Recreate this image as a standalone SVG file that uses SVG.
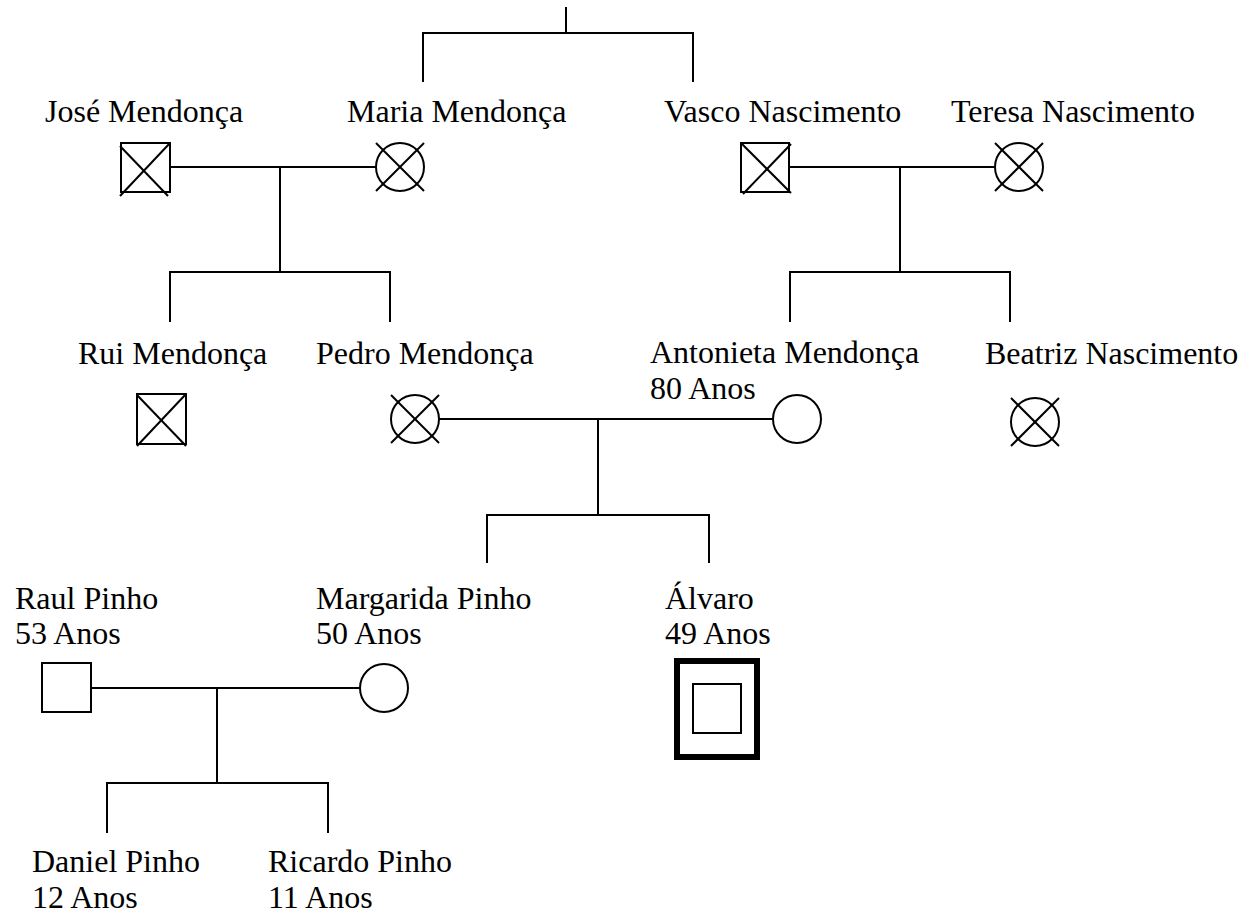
<svg xmlns="http://www.w3.org/2000/svg" width="1254" height="917" viewBox="0 0 1254 917">
  <style>
    .ln { stroke: #000; stroke-width: 2; fill: none; }
    .sym { stroke: #000; stroke-width: 2; fill: #fff; }
    .x { stroke: #000; stroke-width: 2; }
    .lbl { font-family: "Liberation Serif", "Times New Roman", serif; font-size: 32px; fill: #000; }
  </style>
  <rect width="1254" height="917" fill="#fff"/>

  <!-- connectors -->
  <g id="connectors" class="ln">
    <path d="M566,7 V33 M423,82 V33 H693 V82"/>
    <path d="M170,167 H376 M280,167 V272 M170,322 V272 H390 V322"/>
    <path d="M789,167 H995 M900,167 V272 M790,322 V272 H1010 V322"/>
    <path d="M439,419 H773 M598,419 V515 M487,563 V515 H709 V563"/>
    <path d="M91,688 H360 M217,688 V783 M107,833 V783 H328 V833"/>
  </g>

  <!-- deceased male -->
  <g id="jose">
    <text class="lbl" x="45" y="122">José Mendonça</text>
    <rect class="sym" x="121" y="143" width="49" height="49"/>
    <line class="x" x1="120" y1="146" x2="168" y2="196"/>
    <line class="x" x1="120" y1="196" x2="170" y2="143"/>
  </g>
  <g id="maria">
    <text class="lbl" x="347" y="122">Maria Mendonça</text>
    <circle class="sym" cx="400" cy="167" r="24"/>
    <line class="x" x1="376" y1="143" x2="424" y2="191"/>
    <line class="x" x1="376" y1="191" x2="424" y2="143"/>
  </g>
  <g id="vasco">
    <text class="lbl" x="664" y="122">Vasco Nascimento</text>
    <rect class="sym" x="741" y="143" width="48" height="49"/>
    <line class="x" x1="741" y1="143" x2="791" y2="193"/>
    <line class="x" x1="743" y1="194" x2="791" y2="144"/>
  </g>
  <g id="teresa">
    <text class="lbl" x="951" y="122">Teresa Nascimento</text>
    <circle class="sym" cx="1019" cy="167" r="24"/>
    <line class="x" x1="995" y1="143" x2="1043" y2="191"/>
    <line class="x" x1="995" y1="191" x2="1043" y2="143"/>
  </g>

  <g id="rui">
    <text class="lbl" x="78" y="364">Rui Mendonça</text>
    <rect class="sym" x="137" y="394" width="49" height="50"/>
    <line class="x" x1="137" y1="395" x2="186" y2="446"/>
    <line class="x" x1="137" y1="446" x2="186" y2="394"/>
  </g>
  <g id="pedro">
    <text class="lbl" x="316" y="364">Pedro Mendonça</text>
    <circle class="sym" cx="415" cy="419" r="24"/>
    <line class="x" x1="391" y1="395" x2="439" y2="443"/>
    <line class="x" x1="391" y1="443" x2="439" y2="395"/>
  </g>
  <g id="antonieta">
    <text class="lbl" x="650" y="363">Antonieta Mendonça</text>
    <text class="lbl" x="650" y="399">80 Anos</text>
    <circle class="sym" cx="797" cy="419" r="24"/>
  </g>
  <g id="beatriz">
    <text class="lbl" x="985" y="364">Beatriz Nascimento</text>
    <circle class="sym" cx="1035" cy="422" r="24"/>
    <line class="x" x1="1011" y1="398" x2="1059" y2="446"/>
    <line class="x" x1="1011" y1="446" x2="1059" y2="398"/>
  </g>

  <g id="raul">
    <text class="lbl" x="15" y="609">Raul Pinho</text>
    <text class="lbl" x="15" y="644">53 Anos</text>
    <rect class="sym" x="42" y="663" width="49" height="49"/>
  </g>
  <g id="margarida">
    <text class="lbl" x="316" y="609">Margarida Pinho</text>
    <text class="lbl" x="316" y="644">50 Anos</text>
    <circle class="sym" cx="384" cy="688" r="24"/>
  </g>
  <!-- index case -->
  <g id="alvaro">
    <text class="lbl" x="665" y="609">Álvaro</text>
    <text class="lbl" x="665" y="644">49 Anos</text>
    <rect x="677" y="661" width="80" height="96" fill="#fff" stroke="#000" stroke-width="6"/>
    <rect class="sym" x="693" y="684" width="48" height="49"/>
  </g>

  <g id="daniel">
    <text class="lbl" x="32" y="872">Daniel Pinho</text>
    <text class="lbl" x="32" y="908">12 Anos</text>
  </g>
  <g id="ricardo">
    <text class="lbl" x="268" y="872">Ricardo Pinho</text>
    <text class="lbl" x="268" y="908">11 Anos</text>
  </g>
</svg>
